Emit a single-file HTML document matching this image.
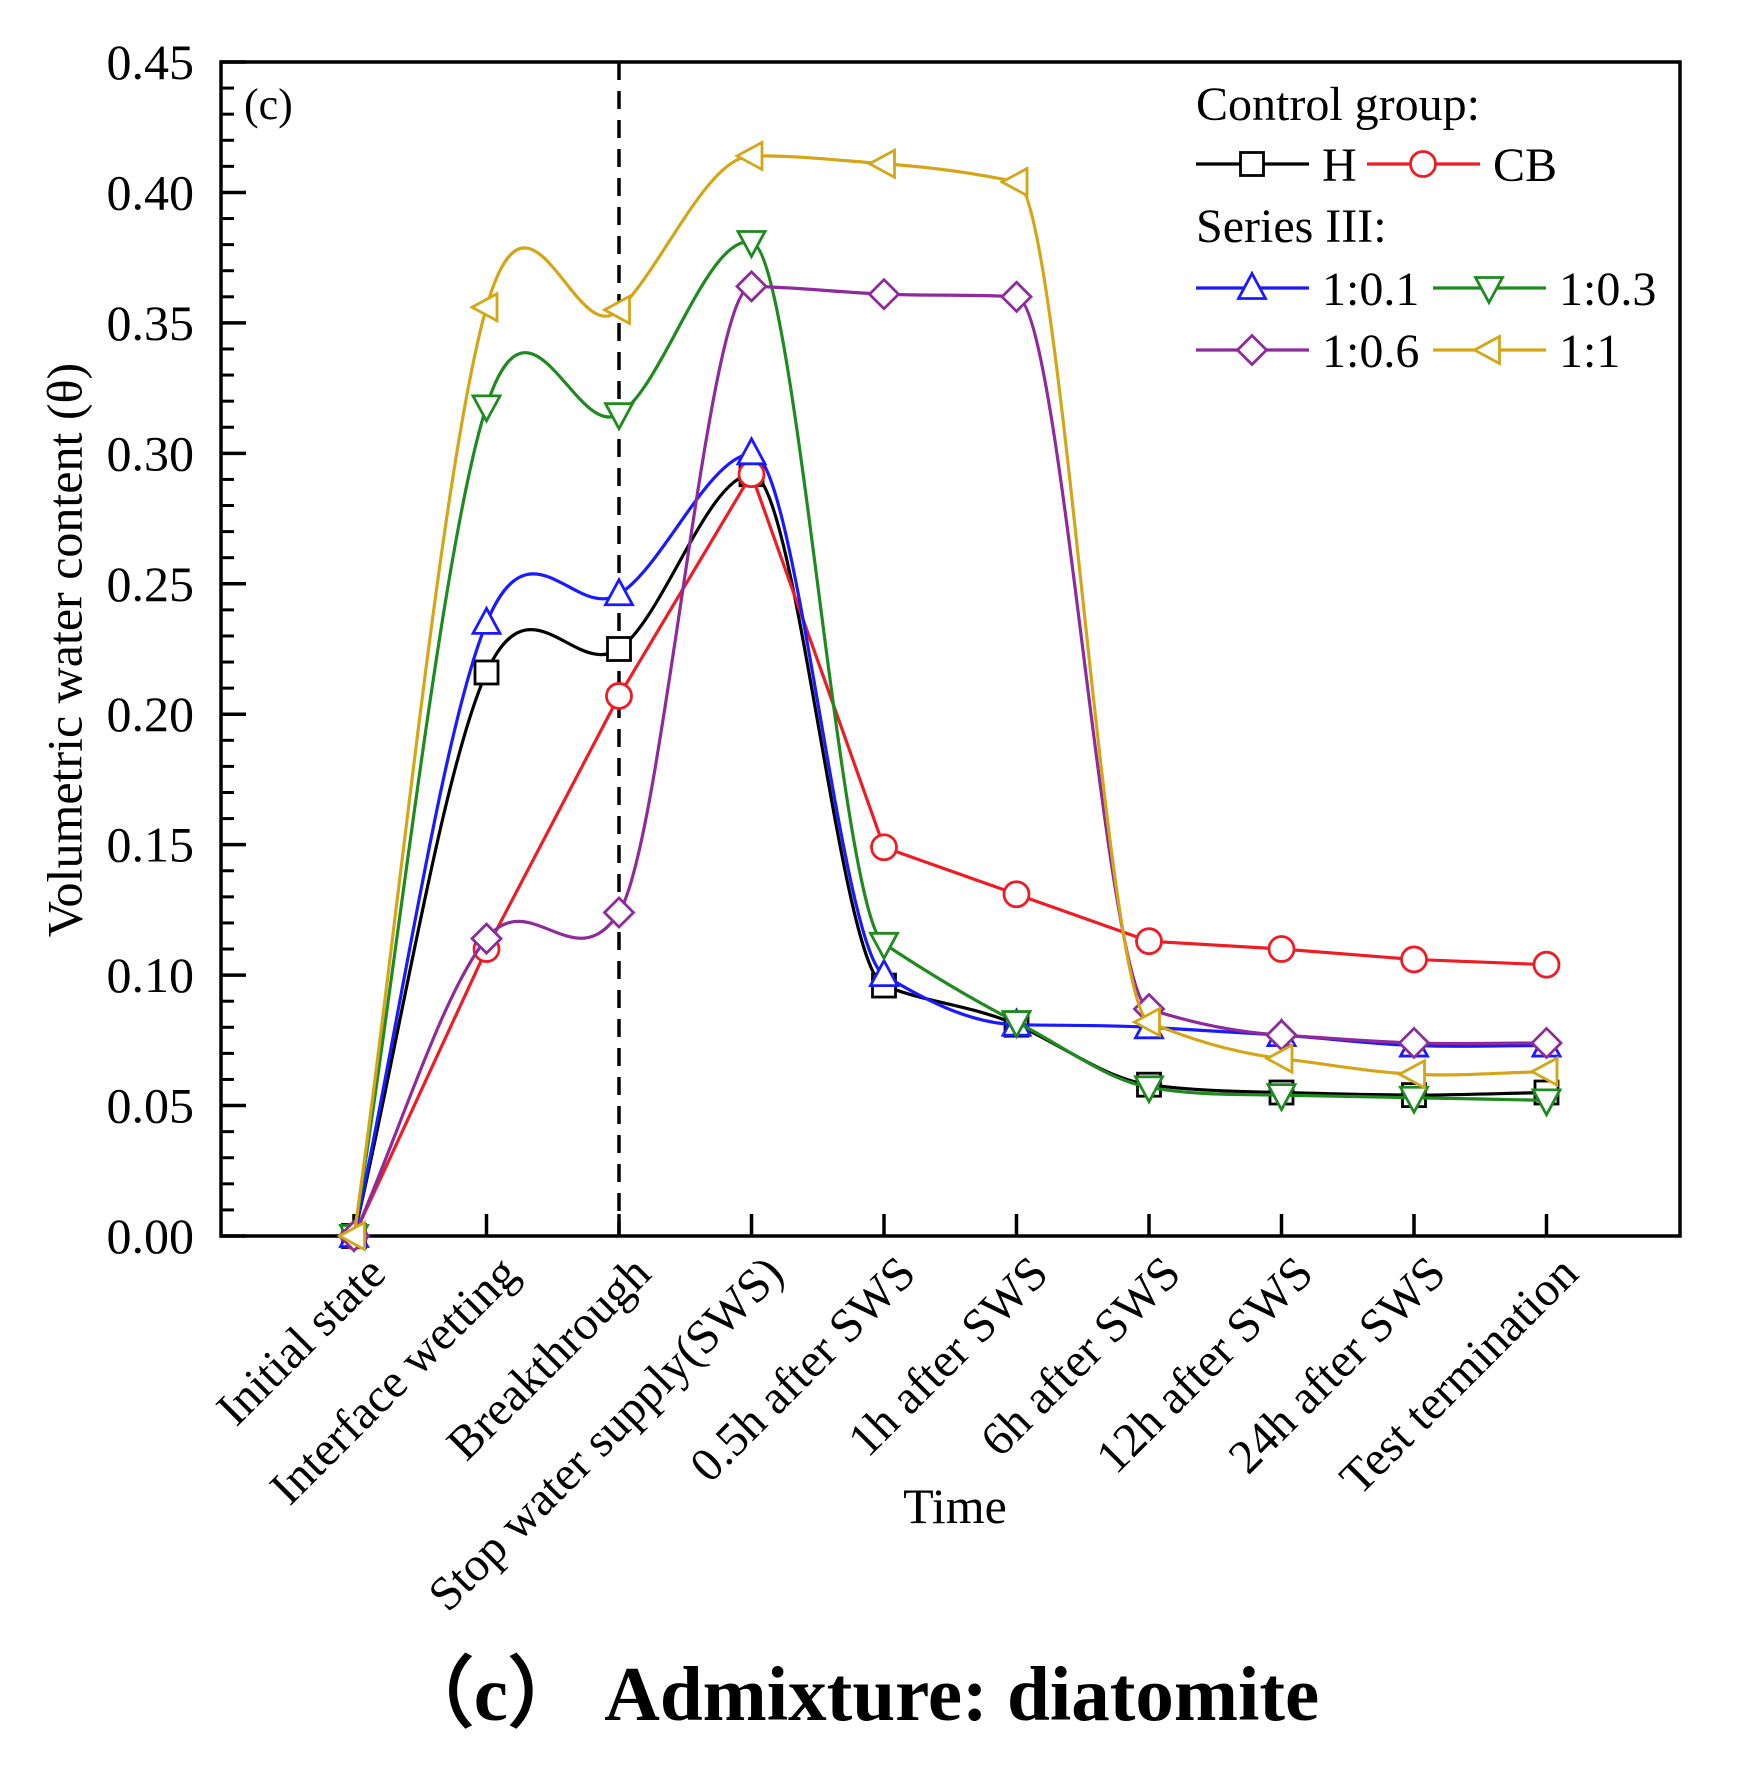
<!DOCTYPE html>
<html><head><meta charset="utf-8"><style>
body{margin:0;background:#fff}
svg{display:block;font-family:"Liberation Serif",serif}
</style></head><body>
<svg id="chart" width="1742" height="1772" viewBox="0 0 1742 1772">
<g id="axes"></g><g id="series"></g>
<text x="244" y="119" font-size="44">(c)</text>
<g id="legend"></g>
<text x="70" y="650" font-size="50" text-anchor="middle" transform="rotate(-90 70 650)" dominant-baseline="middle">Volumetric water content (θ)</text>
<text x="955" y="1523" font-size="50" text-anchor="middle">Time</text>
<text x="858" y="1720" font-size="77" font-weight="bold" text-anchor="middle">（c） Admixture: diatomite</text>
</svg>
<script>
const categories=["Initial state","Interface wetting","Breakthrough","Stop water supply(SWS)","0.5h after SWS","1h after SWS","6h after SWS","12h after SWS","24h after SWS","Test termination"];
const yTicks=[0,0.05,0.10,0.15,0.20,0.25,0.30,0.35,0.40,0.45];
const seriesNames=["H","CB","1:0.1","1:0.3","1:0.6","1:1"];
const valsH=[0,0.216,0.225,0.292,0.096,0.081,0.058,0.055,0.054,0.055];
const valsCB=[0,0.110,0.207,0.292,0.149,0.131,0.113,0.110,0.106,0.104];
const vals01=[0,0.235,0.246,0.300,0.100,0.081,0.080,0.077,0.073,0.073];
const vals03=[0,0.318,0.315,0.381,0.112,0.082,0.057,0.054,0.053,0.052];
const vals06=[0,0.114,0.124,0.364,0.361,0.360,0.087,0.077,0.074,0.074];
const vals1=[0,0.356,0.355,0.414,0.411,0.404,0.082,0.068,0.062,0.063];
const NS="http://www.w3.org/2000/svg";
const L=221,R=1680,T=62,B=1236,X0=354,DX=132.5,YMAX=0.45;
const xs=i=>X0+DX*i, ys=v=>B-(v/YMAX)*(B-T);
function mk(tag,at,parent){const e=document.createElementNS(NS,tag);for(const k in at)e.setAttribute(k,at[k]);parent.appendChild(e);return e;}
const axes=document.getElementById('axes');
const frame=mk('rect',{x:L,y:T,width:R-L,height:B-T,fill:'none',stroke:'#000','stroke-width':3.5},axes);


yTicks.forEach((v,i)=>{
 const y=ys(v);
 const t=mk('line',{x1:L,x2:L+25,y1:y,y2:y,stroke:'#000','stroke-width':3.5},axes);
 
 
 if(i<yTicks.length-1){for(let k=1;k<5;k++){const m=mk('line',{x1:L,x2:L+13,y1:ys(v+0.01*k),y2:ys(v+0.01*k),stroke:'#000','stroke-width':3},axes);
 
 }}
 const lb=mk('text',{x:L-27,y:y+17,'font-size':50,'text-anchor':'end'},axes);lb.textContent=v.toFixed(2);
 
 
});
categories.forEach((c,i)=>{
 const x=xs(i);
 const t=mk('line',{x1:x,x2:x,y1:B,y2:B-22,stroke:'#000','stroke-width':3.5},axes);
 
 
 const ax=x+34,ay=1276;
 const lb=mk('text',{x:ax,y:ay,'font-size':48,'text-anchor':'end',transform:`rotate(-45 ${ax} ${ay})`},axes);lb.textContent=c;
 
 
});
const dash=mk('line',{x1:xs(2),x2:xs(2),y1:T,y2:B,stroke:'#000','stroke-width':3.5,'stroke-dasharray':'18 11'},axes);


const colors=["#000000","#ee1c24","#1a1aff","#1f8a1f","#8e2a9c","#d4a617"];
const shapes=["square","circle","up","down","diamond","left"];
const data=[valsH,valsCB,vals01,vals03,vals06,vals1];
function marker(shape,x,y,col,parent){
 const r=12.5;let e;
 const st={fill:'#fff',stroke:col,'stroke-width':2.8};
 if(shape==='square')e=mk('rect',Object.assign({x:x-r+1,y:y-r+1,width:2*r-2,height:2*r-2},st),parent);
 else if(shape==='circle')e=mk('circle',Object.assign({cx:x,cy:y,r:r},st),parent);
 else{let p;
  if(shape==='up')p=[[x,y-r-2],[x+r+1,y+r-2],[x-r-1,y+r-2]];
  else if(shape==='down')p=[[x,y+r+2],[x+r+1,y-r+2],[x-r-1,y-r+2]];
  else if(shape==='diamond')p=[[x,y-r-2],[x+r+2,y],[x,y+r+2],[x-r-2,y]];
  else p=[[x-r-2,y],[x+r-2,y-r-1],[x+r-2,y+r+1]];
  e=mk('polygon',Object.assign({points:p.map(q=>q.join(',')).join(' ')},st),parent);}
 return e;
}
function spline(pts){
 const n=pts.length,m=[];
 for(let i=0;i<n-1;i++)m.push((pts[i+1][1]-pts[i][1])/(pts[i+1][0]-pts[i][0]));
 const t=[];
 for(let i=0;i<n;i++){
  if(i===0)t.push(m[0]);else if(i===n-1)t.push(m[n-2]);
  else if(i===1||i===n-2)t.push((m[i-1]+m[i])/2);
  else{const w1=Math.abs(m[i+1]-m[i])+1e-6,w2=Math.abs(m[i-1]-m[i-2])+1e-6;t.push((w1*m[i-1]+w2*m[i])/(w1+w2));}
 }
 let d=`M${pts[0][0]},${pts[0][1]}`;
 for(let i=0;i<n-1;i++){
  const h=(pts[i+1][0]-pts[i][0])/3;
  d+=`C${pts[i][0]+h},${pts[i][1]+t[i]*h} ${pts[i+1][0]-h},${pts[i+1][1]-t[i+1]*h} ${pts[i+1][0]},${pts[i+1][1]}`;}
 return d;
}
const sg=document.getElementById('series');
data.forEach((vals,s)=>{
 const g=mk('g',{},sg);
 
 
 const pts=vals.map((v,i)=>[xs(i),ys(v)]);
 const path=mk('path',{d:s===1?'M'+pts.map(p=>p.join(',')).join('L'):spline(pts),fill:'none',stroke:colors[s],'stroke-width':3.2},g);
 
 
 pts.forEach(p=>{const m=marker(shapes[s],p[0],p[1],colors[s],g);
  
  });
});
const lg=document.getElementById('legend');
function head(txt,y){const t=mk('text',{x:1196,y:y,'font-size':48},lg);t.textContent=txt;
 
 }
head('Control group:',120);head('Series III:',242);
const entries=[[0,1196,164],[1,1367,164],[2,1196,288],[3,1433,288],[4,1196,350],[5,1433,350]];
entries.forEach(([s,x,y])=>{
 const g=mk('g',{},lg);
 
 
 mk('line',{x1:x,x2:x+113,y1:y,y2:y,stroke:colors[s],'stroke-width':3.2},g);
 marker(shapes[s],x+56,y,colors[s],g);
 const t=mk('text',{x:x+126,y:y+17,'font-size':48},g);t.textContent=seriesNames[s];
});
</script>
</body></html>
